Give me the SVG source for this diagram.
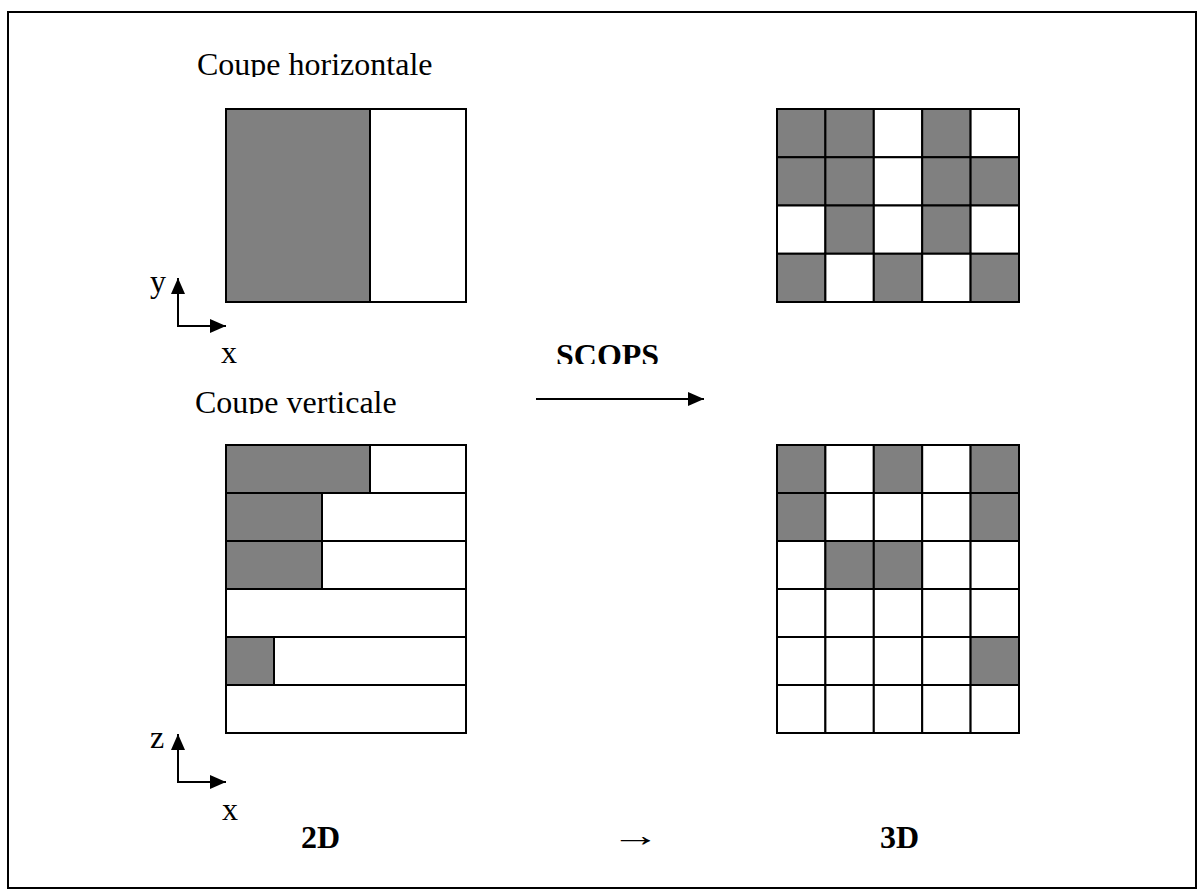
<svg xmlns="http://www.w3.org/2000/svg" width="1204" height="896" viewBox="0 0 1204 896">
<style>
.t{font-family:"Liberation Serif","Times New Roman",serif;font-size:32px;fill:#000}
.b{font-weight:bold}
.c{stroke:#000;stroke-width:2}
.g{fill:#808080}
.w{fill:#fff}
.ax{stroke:#000;stroke-width:2;fill:none}
</style>
<defs>
<marker id="ah" markerUnits="userSpaceOnUse" markerWidth="16" markerHeight="14" refX="16" refY="7" orient="auto">
<path d="M0,0 L16,7 L0,14 z" fill="#000"/>
</marker>
<clipPath id="clipH"><rect x="150" y="30" width="400" height="47"/></clipPath>
<clipPath id="clipV"><rect x="150" y="370" width="400" height="44"/></clipPath>
<clipPath id="clipS"><rect x="500" y="320" width="250" height="44"/></clipPath>
</defs>
<rect width="1204" height="896" fill="#fff"/>
<rect id="frame" x="8" y="12" width="1188" height="876" fill="none" stroke="#000" stroke-width="2"/>

<g id="labels">
<text class="t" x="197" y="75" clip-path="url(#clipH)">Coupe horizontale</text>
<text class="t" x="195" y="413" clip-path="url(#clipV)">Coupe verticale</text>
<text class="t b" x="556" y="366" clip-path="url(#clipS)">SCOPS</text>
<text class="t" x="150" y="292">y</text>
<text class="t" x="221" y="363">x</text>
<text class="t" x="150" y="748">z</text>
<text class="t" x="222" y="820">x</text>
<text class="t b" x="301" y="848">2D</text>
<text class="t" transform="translate(611,846) scale(1.55,1)" x="0" y="0">→</text>
<text class="t b" x="880" y="848">3D</text>
</g>

<g id="horiz2d">
<rect class="c w" x="226" y="109" width="240" height="193"/>
<rect class="c g" x="226" y="109" width="144" height="193"/>
</g>

<g id="horiz3d">
<rect class="c g" x="777" y="109" width="48.4" height="48.25"/>
<rect class="c g" x="825.4" y="109" width="48.4" height="48.25"/>
<rect class="c w" x="873.8" y="109" width="48.4" height="48.25"/>
<rect class="c g" x="922.2" y="109" width="48.4" height="48.25"/>
<rect class="c w" x="970.6" y="109" width="48.4" height="48.25"/>
<rect class="c g" x="777" y="157.25" width="48.4" height="48.25"/>
<rect class="c g" x="825.4" y="157.25" width="48.4" height="48.25"/>
<rect class="c w" x="873.8" y="157.25" width="48.4" height="48.25"/>
<rect class="c g" x="922.2" y="157.25" width="48.4" height="48.25"/>
<rect class="c g" x="970.6" y="157.25" width="48.4" height="48.25"/>
<rect class="c w" x="777" y="205.5" width="48.4" height="48.25"/>
<rect class="c g" x="825.4" y="205.5" width="48.4" height="48.25"/>
<rect class="c w" x="873.8" y="205.5" width="48.4" height="48.25"/>
<rect class="c g" x="922.2" y="205.5" width="48.4" height="48.25"/>
<rect class="c w" x="970.6" y="205.5" width="48.4" height="48.25"/>
<rect class="c g" x="777" y="253.75" width="48.4" height="48.25"/>
<rect class="c w" x="825.4" y="253.75" width="48.4" height="48.25"/>
<rect class="c g" x="873.8" y="253.75" width="48.4" height="48.25"/>
<rect class="c w" x="922.2" y="253.75" width="48.4" height="48.25"/>
<rect class="c g" x="970.6" y="253.75" width="48.4" height="48.25"/>
</g>

<g id="vert2d">
<rect class="c w" x="226" y="445" width="240" height="48"/>
<rect class="c g" x="226" y="445" width="144" height="48"/>
<rect class="c w" x="226" y="493" width="240" height="48"/>
<rect class="c g" x="226" y="493" width="96" height="48"/>
<rect class="c w" x="226" y="541" width="240" height="48"/>
<rect class="c g" x="226" y="541" width="96" height="48"/>
<rect class="c w" x="226" y="589" width="240" height="48"/>
<rect class="c w" x="226" y="637" width="240" height="48"/>
<rect class="c g" x="226" y="637" width="48" height="48"/>
<rect class="c w" x="226" y="685" width="240" height="48"/>
</g>

<g id="vert3d">
<rect class="c g" x="777" y="445" width="48.4" height="48"/>
<rect class="c w" x="825.4" y="445" width="48.4" height="48"/>
<rect class="c g" x="873.8" y="445" width="48.4" height="48"/>
<rect class="c w" x="922.2" y="445" width="48.4" height="48"/>
<rect class="c g" x="970.6" y="445" width="48.4" height="48"/>
<rect class="c g" x="777" y="493" width="48.4" height="48"/>
<rect class="c w" x="825.4" y="493" width="48.4" height="48"/>
<rect class="c w" x="873.8" y="493" width="48.4" height="48"/>
<rect class="c w" x="922.2" y="493" width="48.4" height="48"/>
<rect class="c g" x="970.6" y="493" width="48.4" height="48"/>
<rect class="c w" x="777" y="541" width="48.4" height="48"/>
<rect class="c g" x="825.4" y="541" width="48.4" height="48"/>
<rect class="c g" x="873.8" y="541" width="48.4" height="48"/>
<rect class="c w" x="922.2" y="541" width="48.4" height="48"/>
<rect class="c w" x="970.6" y="541" width="48.4" height="48"/>
<rect class="c w" x="777" y="589" width="48.4" height="48"/>
<rect class="c w" x="825.4" y="589" width="48.4" height="48"/>
<rect class="c w" x="873.8" y="589" width="48.4" height="48"/>
<rect class="c w" x="922.2" y="589" width="48.4" height="48"/>
<rect class="c w" x="970.6" y="589" width="48.4" height="48"/>
<rect class="c w" x="777" y="637" width="48.4" height="48"/>
<rect class="c w" x="825.4" y="637" width="48.4" height="48"/>
<rect class="c w" x="873.8" y="637" width="48.4" height="48"/>
<rect class="c w" x="922.2" y="637" width="48.4" height="48"/>
<rect class="c g" x="970.6" y="637" width="48.4" height="48"/>
<rect class="c w" x="777" y="685" width="48.4" height="48"/>
<rect class="c w" x="825.4" y="685" width="48.4" height="48"/>
<rect class="c w" x="873.8" y="685" width="48.4" height="48"/>
<rect class="c w" x="922.2" y="685" width="48.4" height="48"/>
<rect class="c w" x="970.6" y="685" width="48.4" height="48"/>
</g>

<g id="connectors">
<line class="ax" x1="178" y1="327" x2="178" y2="278" marker-end="url(#ah)"/>
<line class="ax" x1="177" y1="326" x2="226" y2="326" marker-end="url(#ah)"/>
<line class="ax" x1="178" y1="783" x2="178" y2="734" marker-end="url(#ah)"/>
<line class="ax" x1="177" y1="782" x2="226" y2="782" marker-end="url(#ah)"/>
<line class="ax" x1="536" y1="399" x2="704" y2="399" marker-end="url(#ah)"/>
</g>
</svg>
